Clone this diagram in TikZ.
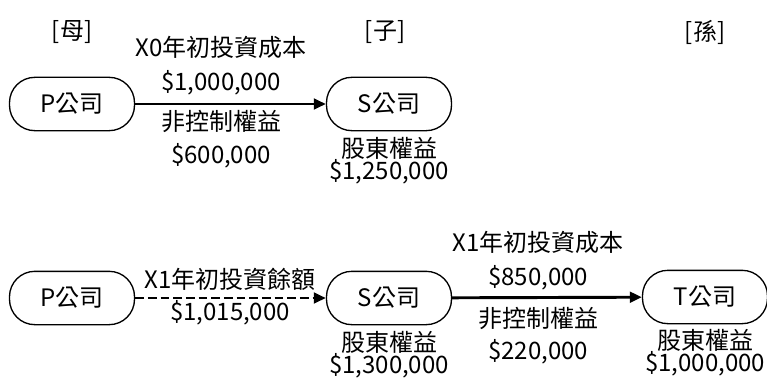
\documentclass[tikz,border=0pt]{standalone}
\usepackage{fontspec}
\setmainfont{Noto Sans CJK TC}
\usetikzlibrary{arrows.meta}
\begin{document}
\begin{tikzpicture}[x=0.75pt,y=-0.75pt,
  every node/.style={font=\fontsize{18}{20}\selectfont,inner sep=0pt},
  company/.style={draw,line width=1pt,rounded corners=19pt,minimum width=93.75pt,minimum height=40pt},
  equity/.style={align=center,font=\fontsize{18}{16.5}\selectfont},
  link/.style={line width=2.2pt,-{Triangle[length=9pt,width=8pt]}},
  dlink/.style={link,dash pattern=on 6.5pt off 3pt}]
\useasboundingbox (0,0) rectangle (767,378);
% headers
\node (hm) at (72,32) {[母]};
\node (hz) at (385,32) {[子]};
\node (hs) at (705,32) {[孫]};
% top row
\node[company] (p1) at (72,104) {P公司};
\node[company] (s1) at (389,104) {S公司};
\draw[link] (p1) -- (s1);
\node (l1) at (221,47) {X0年初投資成本};
\node (l2) at (221,83) {\$1,000,000};
\node (l3) at (221,121) {非控制權益};
\node (l4) at (221,156) {\$600,000};
\node[equity] (e1) at (389,161) {股東權益\\\$1,250,000};
% bottom row
\node[company] (p2) at (72,298) {P公司};
\node[company] (s2) at (389,298) {S公司};
\node[company] (t2) at (705,297) {T公司};
\draw[dlink] (p2) -- (s2);
\draw[link] (s2) -- (t2);
\node (m1) at (230,279) {X1年初投資餘額};
\node (m2) at (230,313) {\$1,015,000};
\node (n1) at (538,242) {X1年初投資成本};
\node (n2) at (538,278) {\$850,000};
\node (n3) at (538,318) {非控制權益};
\node (n4) at (538,352) {\$220,000};
\node[equity] (e2) at (389,355) {股東權益\\\$1,300,000};
\node[equity] (e3) at (705,353) {股東權益\\\$1,000,000};
\end{tikzpicture}
\end{document}
